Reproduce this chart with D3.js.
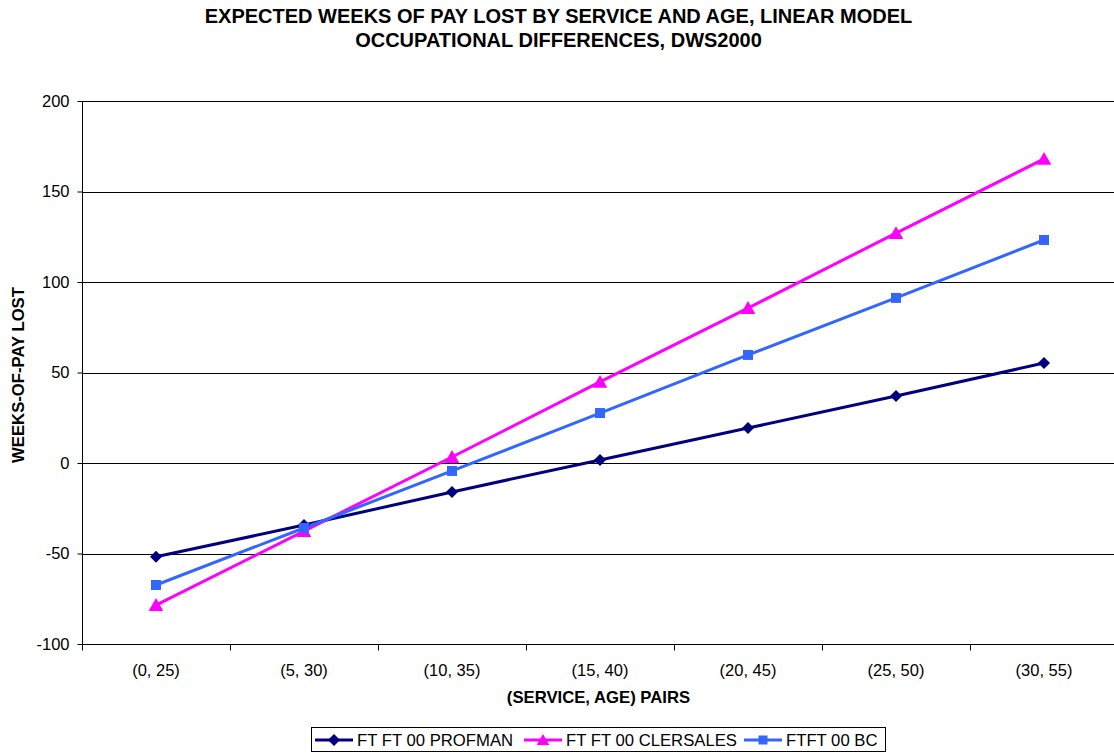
<!DOCTYPE html>
<html><head><meta charset="utf-8">
<script src="https://cdn.jsdelivr.net/npm/d3@7"></script>
<style>body{margin:0;background:#fff}svg{display:block;font-family:"Liberation Sans",Arial,sans-serif}</style>
</head><body>
<svg id="c" width="1114" height="755"></svg>
<script>
const categories = ["(0, 25)","(5, 30)","(10, 35)","(15, 40)","(20, 45)","(25, 50)","(30, 55)"];
const profman = [-51.8,-34.3,-16.0,1.7,19.3,37.0,55.2];
const clersales = [-78.5,-37.6,3.3,44.8,85.6,127.0,168.0];
const bc = [-67.4,-35.9,-4.4,27.6,59.7,91.2,123.2];
const seriesNames = ["FT FT 00 PROFMAN","FT FT 00 CLERSALES","FTFT 00 BC"];
const yTicks = [-100,-50,0,50,100,150,200];

const series = [
  {name: seriesNames[0], values: profman, color: "#000080", shape: "diamond"},
  {name: seriesNames[1], values: clersales, color: "#FF00FF", shape: "triangle"},
  {name: seriesNames[2], values: bc, color: "#3366FF", shape: "square"}
];

const svg = d3.select("#c");
const L = 82, R = 1118, T = 101, B = 644;
const x = d3.scaleBand().domain(categories).range([L, R]).padding(0);
const y = d3.scaleLinear().domain([-100, 200]).range([B, T]);

// gridlines
svg.append("g").selectAll("line").data(yTicks.filter(d => d !== -100)).join("line")
  .attr("x1", L).attr("x2", R).attr("y1", d => Math.round(y(d)) + 0.5).attr("y2", d => Math.round(y(d)) + 0.5)
  .attr("stroke", "#000").attr("stroke-width", 1);

// axes
const yAxis = svg.append("g").attr("transform", `translate(${L + 0.5},0)`)
  .call(d3.axisLeft(y).tickValues(yTicks).tickFormat(d => String(d)).tickSize(5).tickPadding(8));
yAxis.selectAll("text").attr("font-size", 16.5).attr("fill", "#000").attr("font-family", "Liberation Sans, Arial");
yAxis.selectAll("line").attr("stroke", "#000");
yAxis.select(".domain").attr("stroke", "#000").attr("d", `M0,${T}V${B}`);

const xAxisG = svg.append("g").attr("transform", `translate(0,${B + 0.5})`);
xAxisG.append("line").attr("x1", L).attr("x2", R).attr("stroke", "#000");
xAxisG.selectAll("line.tk").data(categories).join("line").attr("class", "tk")
  .attr("x1", d => Math.round(x(d)) + 0.5).attr("x2", d => Math.round(x(d)) + 0.5).attr("y1", 0).attr("y2", 6).attr("stroke", "#000");
xAxisG.selectAll("text").data(categories).join("text")
  .attr("x", d => x(d) + x.bandwidth() / 2).attr("y", 31.5).attr("text-anchor", "middle")
  .attr("font-size", 16.5).text(d => d);

// symbols
function sym(shape, r) {
  if (shape === "diamond") return `M0,${-r}L${r},0L0,${r}L${-r},0Z`;
  if (shape === "triangle") return `M0,${-r}L${r * 1.05},${r * 0.85}L${-r * 1.05},${r * 0.85}Z`;
  return `M${-r},${-r}H${r}V${r}H${-r}Z`;
}
const line = d3.line().x((d, i) => x(categories[i]) + x.bandwidth() / 2).y(d => y(d));
series.forEach(s => {
  svg.append("path").datum(s.values).attr("d", line).attr("fill", "none").attr("stroke", s.color).attr("stroke-width", 3);
});
series.forEach(s => {
  svg.append("g").selectAll("path").data(s.values).join("path")
    .attr("transform", (d, i) => `translate(${x(categories[i]) + x.bandwidth() / 2},${y(d)})`)
    .attr("d", sym(s.shape, s.shape === "diamond" ? 6 : s.shape === "triangle" ? 7 : 5))
    .attr("fill", s.color);
});

// titles
svg.append("text").attr("x", 558.5).attr("y", 23).attr("text-anchor", "middle").attr("font-size", 20).attr("font-weight", "bold").text("EXPECTED WEEKS OF PAY LOST BY SERVICE AND AGE, LINEAR MODEL");
svg.append("text").attr("x", 558.5).attr("y", 47).attr("text-anchor", "middle").attr("font-size", 20).attr("font-weight", "bold").text("OCCUPATIONAL DIFFERENCES, DWS2000");
svg.append("text").attr("x", 598.5).attr("y", 703).attr("text-anchor", "middle").attr("font-size", 16.7).attr("font-weight", "bold").text("(SERVICE, AGE) PAIRS");
svg.append("text").attr("transform", "translate(24,375) rotate(-90)").attr("text-anchor", "middle").attr("font-size", 16.7).attr("font-weight", "bold").text("WEEKS-OF-PAY LOST");

// legend
const lg = svg.append("g");
lg.append("rect").attr("x", 311.5).attr("y", 727.5).attr("width", 574).attr("height", 24).attr("fill", "#fff").attr("stroke", "#000");
const itemX = [315, 524, 744];
series.forEach((s, i) => {
  const g = lg.append("g").attr("transform", `translate(${itemX[i]},740)`);
  g.append("line").attr("x1", 0).attr("x2", 38).attr("stroke", s.color).attr("stroke-width", 3);
  g.append("path").attr("transform", "translate(19,0)").attr("d", sym(s.shape, s.shape === "square" ? 4.5 : 6)).attr("fill", s.color);
  g.append("text").attr("x", 42).attr("y", 6).attr("font-size", 16.7).text(s.name);
});
</script>
</body></html>
